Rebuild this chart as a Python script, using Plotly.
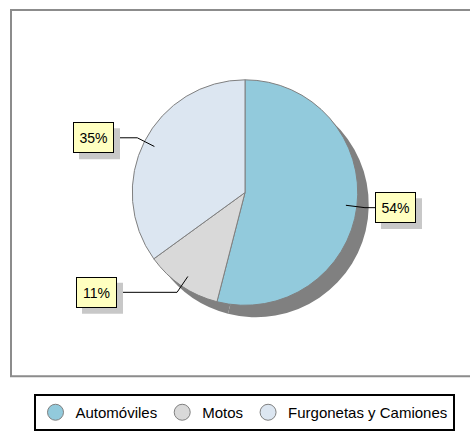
import math
import plotly.graph_objects as go

# ---- data ----
categories = ["Automóviles", "Motos", "Furgonetas y Camiones"]
values = [54, 11, 35]
colors = ["#92CADC", "#D9D9D9", "#DCE6F1"]

# ---- layout constants (pixels) ----
W, H = 470, 431
CX, CY, R = 245, 193, 113          # pie centre / radius
SHADOW_DX, SHADOW_DY = 11, 12
LABEL_EDGE_X = [375, 117, 114]      # x of the label box edge nearest the pie
BOX_W, BOX_H = 41, 31               # label box outer size
LABEL_SHADOW = 6
FONT = "Liberation Sans, Arial, sans-serif"


def px(x):
    return x / W


def py(y):
    return 1 - y / H


fig = go.Figure()

# pie shadow
fig.add_trace(go.Pie(
    values=values, labels=categories, sort=False, direction="clockwise",
    marker=dict(colors=["#808080"] * len(values), line=dict(width=0)),
    textinfo="none", hoverinfo="skip", showlegend=False,
    domain=dict(x=[px(CX - R + SHADOW_DX), px(CX + R + SHADOW_DX)],
                y=[py(CY + R + SHADOW_DY), py(CY - R + SHADOW_DY)]),
))

# main pie
fig.add_trace(go.Pie(
    values=values, labels=categories, sort=False, direction="clockwise",
    marker=dict(colors=colors, line=dict(color="#808080", width=1)),
    textinfo="none", showlegend=False,
    domain=dict(x=[px(CX - R), px(CX + R)], y=[py(CY + R), py(CY - R)]),
))

# legend entries (circle markers)
for name, col in zip(categories, colors):
    fig.add_trace(go.Scatter(
        x=[None], y=[None], mode="markers", name=name,
        marker=dict(symbol="circle", size=16, color=col,
                    line=dict(color="#808080", width=1)),
    ))

# outer frame (open on the right, as in the reference)
shapes = [dict(type="path", xref="paper", yref="paper",
               path="M {} {} L {} {} L {} {} L {} {}".format(
                   px(470), py(10), px(11), py(10), px(11), py(377), px(470), py(377)),
               line=dict(color="#8C8C8C", width=2), layer="below")]
annotations = []

# labels with leader lines
total = sum(values)
cum = 0
for v, edge in zip(values, LABEL_EDGE_X):
    theta = math.radians(360 * (cum + v / 2) / total)
    cum += v
    sx, sy = math.sin(theta), -math.cos(theta)
    p1 = (CX + 0.9 * R * sx, CY + 0.9 * R * sy)
    p2 = (CX + 1.07 * R * sx, CY + 1.07 * R * sy)
    p3 = (edge, p2[1])
    path = "M {} {} L {} {} L {} {}".format(px(p1[0]), py(p1[1]), px(p2[0]), py(p2[1]),
                                            px(p3[0]), py(p3[1]))
    shapes.append(dict(type="path", path=path, xref="paper", yref="paper",
                       line=dict(color="black", width=1)))
    right = sx > 0
    bx0 = edge if right else edge - BOX_W
    by0 = p2[1] - BOX_H / 2
    shapes.append(dict(type="rect", xref="paper", yref="paper",
                       x0=px(bx0 + LABEL_SHADOW), x1=px(bx0 + BOX_W + LABEL_SHADOW),
                       y0=py(by0 + LABEL_SHADOW), y1=py(by0 + BOX_H + LABEL_SHADOW),
                       fillcolor="#C8C8C8", line=dict(width=0)))
    text = f"{round(100 * v / total)}%"
    annotations.append(dict(x=px(edge), y=py(p2[1]), xref="paper", yref="paper",
                            xanchor="left" if right else "right", yanchor="middle",
                            showarrow=False, text=text, width=29, height=19,
                            align="center", borderpad=5, borderwidth=1,
                            bgcolor="#FFFFC0", bordercolor="black",
                            font=dict(family=FONT, size=14, color="black")))

fig.update_layout(
    width=W, height=H,
    margin=dict(l=0, r=0, t=0, b=0),
    paper_bgcolor="white", plot_bgcolor="white",
    xaxis=dict(visible=False), yaxis=dict(visible=False),
    shapes=shapes, annotations=annotations,
    showlegend=True,
    legend=dict(orientation="h", x=px(244), xanchor="center",
                y=py(395), yanchor="top",
                bordercolor="black", borderwidth=2, bgcolor="white",
                font=dict(family=FONT, size=15, color="black"),
                itemclick=False),
    font=dict(family=FONT),
)

fig.write_html(
    "out.html",
    config={"displayModeBar": False},
    post_script=("document.body.style.margin='0';"
                 "document.body.style.overflow='hidden';"
                 "document.documentElement.style.overflow='hidden';"),
)
